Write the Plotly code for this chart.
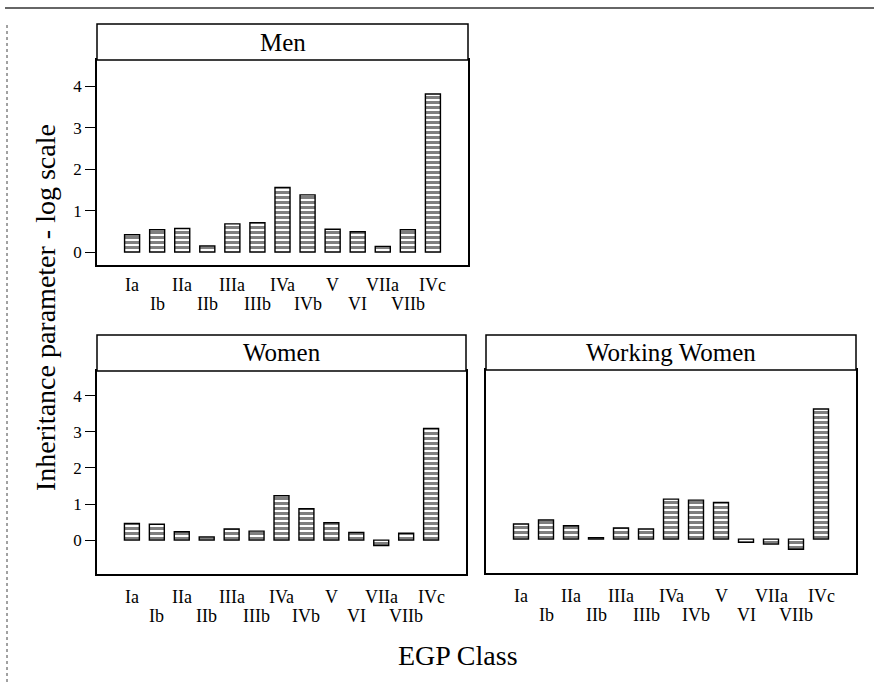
import plotly.graph_objects as go

W, H = 874, 683

classes = ["Ia", "Ib", "IIa", "IIb", "IIIa", "IIIb", "IVa", "IVb", "V", "VI", "VIIa", "VIIb", "IVc"]
men = [0.42, 0.54, 0.57, 0.15, 0.68, 0.71, 1.56, 1.38, 0.55, 0.49, 0.14, 0.54, 3.81]
women = [0.46, 0.44, 0.23, 0.09, 0.31, 0.25, 1.23, 0.87, 0.48, 0.21, -0.15, 0.19, 3.10]
working_women = [0.42, 0.53, 0.37, 0.04, 0.31, 0.28, 1.11, 1.08, 1.02, -0.09, -0.14, -0.28, 3.61]
y_ticks = [0, 1, 2, 3, 4]

panel_titles = ["Men", "Women", "Working Women"]

FONT = "Liberation Serif, Times New Roman, serif"


def fx(x):
    return x / W


def fy(y):
    return 1 - y / H


# panel geometry in pixels: (x0, x1, strip_top, plot_top, plot_bottom, yrange, tick rows y)
panels = [
    (97, 468, 24, 60, 265, [-0.31, 4.63], (285, 304)),
    (97, 466, 335, 371, 574, [-0.94, 4.69], (597, 616)),
    (486, 856, 335, 370, 573, [-0.94, 4.69], (596, 615)),
]
series = [men, women, working_women]

fig = go.Figure()
shapes = []
annotations = []

for i, (vals, (x0, x1, st, pt, pb, yr, rows)) in enumerate(zip(series, panels)):
    n = "" if i == 0 else str(i + 1)
    fig.add_trace(go.Bar(
        x=list(range(len(classes))), y=vals, width=0.6,
        xaxis="x" + n, yaxis="y" + n,
        marker=dict(color="white", line=dict(color="black", width=1.4),
                    pattern=dict(shape="-", fgcolor="black", bgcolor="white", size=5, solidity=0.6)),
        showlegend=False, hoverinfo="skip",
    ))
    xa = dict(domain=[fx(x0), fx(x1)], anchor="y" + n, range=[-1.4, 13.4],
              showticklabels=False, ticks="",
              showline=True, mirror=True, linecolor="black", linewidth=1.5,
              showgrid=False, zeroline=False)
    ya = dict(domain=[fy(pb), fy(pt)], anchor="x" + n, range=yr,
              showline=True, mirror=True, linecolor="black", linewidth=1.5,
              showgrid=False, zeroline=False,
              tickfont=dict(family=FONT, size=17, color="black"))
    if i == 2:
        ya.update(showticklabels=False, ticks="")
    else:
        ya.update(tickvals=y_ticks, ticks="outside", ticklen=10, tickcolor="black", tickwidth=1.2)
    fig.layout["xaxis" + n] = xa
    fig.layout["yaxis" + n] = ya
    # category labels in two staggered rows
    for k, c in enumerate(classes):
        annotations.append(dict(xref="x" + n, yref="paper", x=k, y=fy(rows[k % 2]), text=c,
                                showarrow=False, xanchor="center", yanchor="middle",
                                font=dict(family=FONT, size=18, color="black")))
    # strip
    shapes.append(dict(type="rect", xref="paper", yref="paper",
                       x0=fx(x0), x1=fx(x1), y0=fy(pt), y1=fy(st),
                       line=dict(color="black", width=1.5), fillcolor="white"))
    annotations.append(dict(xref="paper", yref="paper", x=(fx(x0) + fx(x1)) / 2, y=(fy(pt) + fy(st)) / 2,
                            text=panel_titles[i], showarrow=False, xanchor="center", yanchor="middle",
                            font=dict(family=FONT, size=25, color="black")))

# axis titles
annotations.append(dict(xref="paper", yref="paper", x=fx(45), y=fy(308), text="Inheritance parameter - log scale",
                        textangle=-90, showarrow=False, xanchor="center", yanchor="middle",
                        font=dict(family=FONT, size=28, color="black")))
annotations.append(dict(xref="paper", yref="paper", x=fx(458), y=fy(655), text="EGP Class",
                        showarrow=False, xanchor="center", yanchor="middle",
                        font=dict(family=FONT, size=28, color="black")))

# scanned page frame
shapes.append(dict(type="line", xref="paper", yref="paper", x0=fx(5), x1=1, y0=fy(8), y1=fy(8),
                   line=dict(color="#333", width=1.5)))
shapes.append(dict(type="line", xref="paper", yref="paper", x0=fx(7), x1=fx(7), y0=fy(25), y1=0,
                   line=dict(color="#444", width=1, dash="dot")))

fig.update_layout(width=W, height=H, margin=dict(l=0, r=0, t=0, b=0),
                  paper_bgcolor="white", plot_bgcolor="white",
                  shapes=shapes, annotations=annotations, bargap=0.4)

fig.write_html("out.html", config={"displayModeBar": False},
               post_script="document.body.style.margin='0';document.body.style.overflow='hidden';")
